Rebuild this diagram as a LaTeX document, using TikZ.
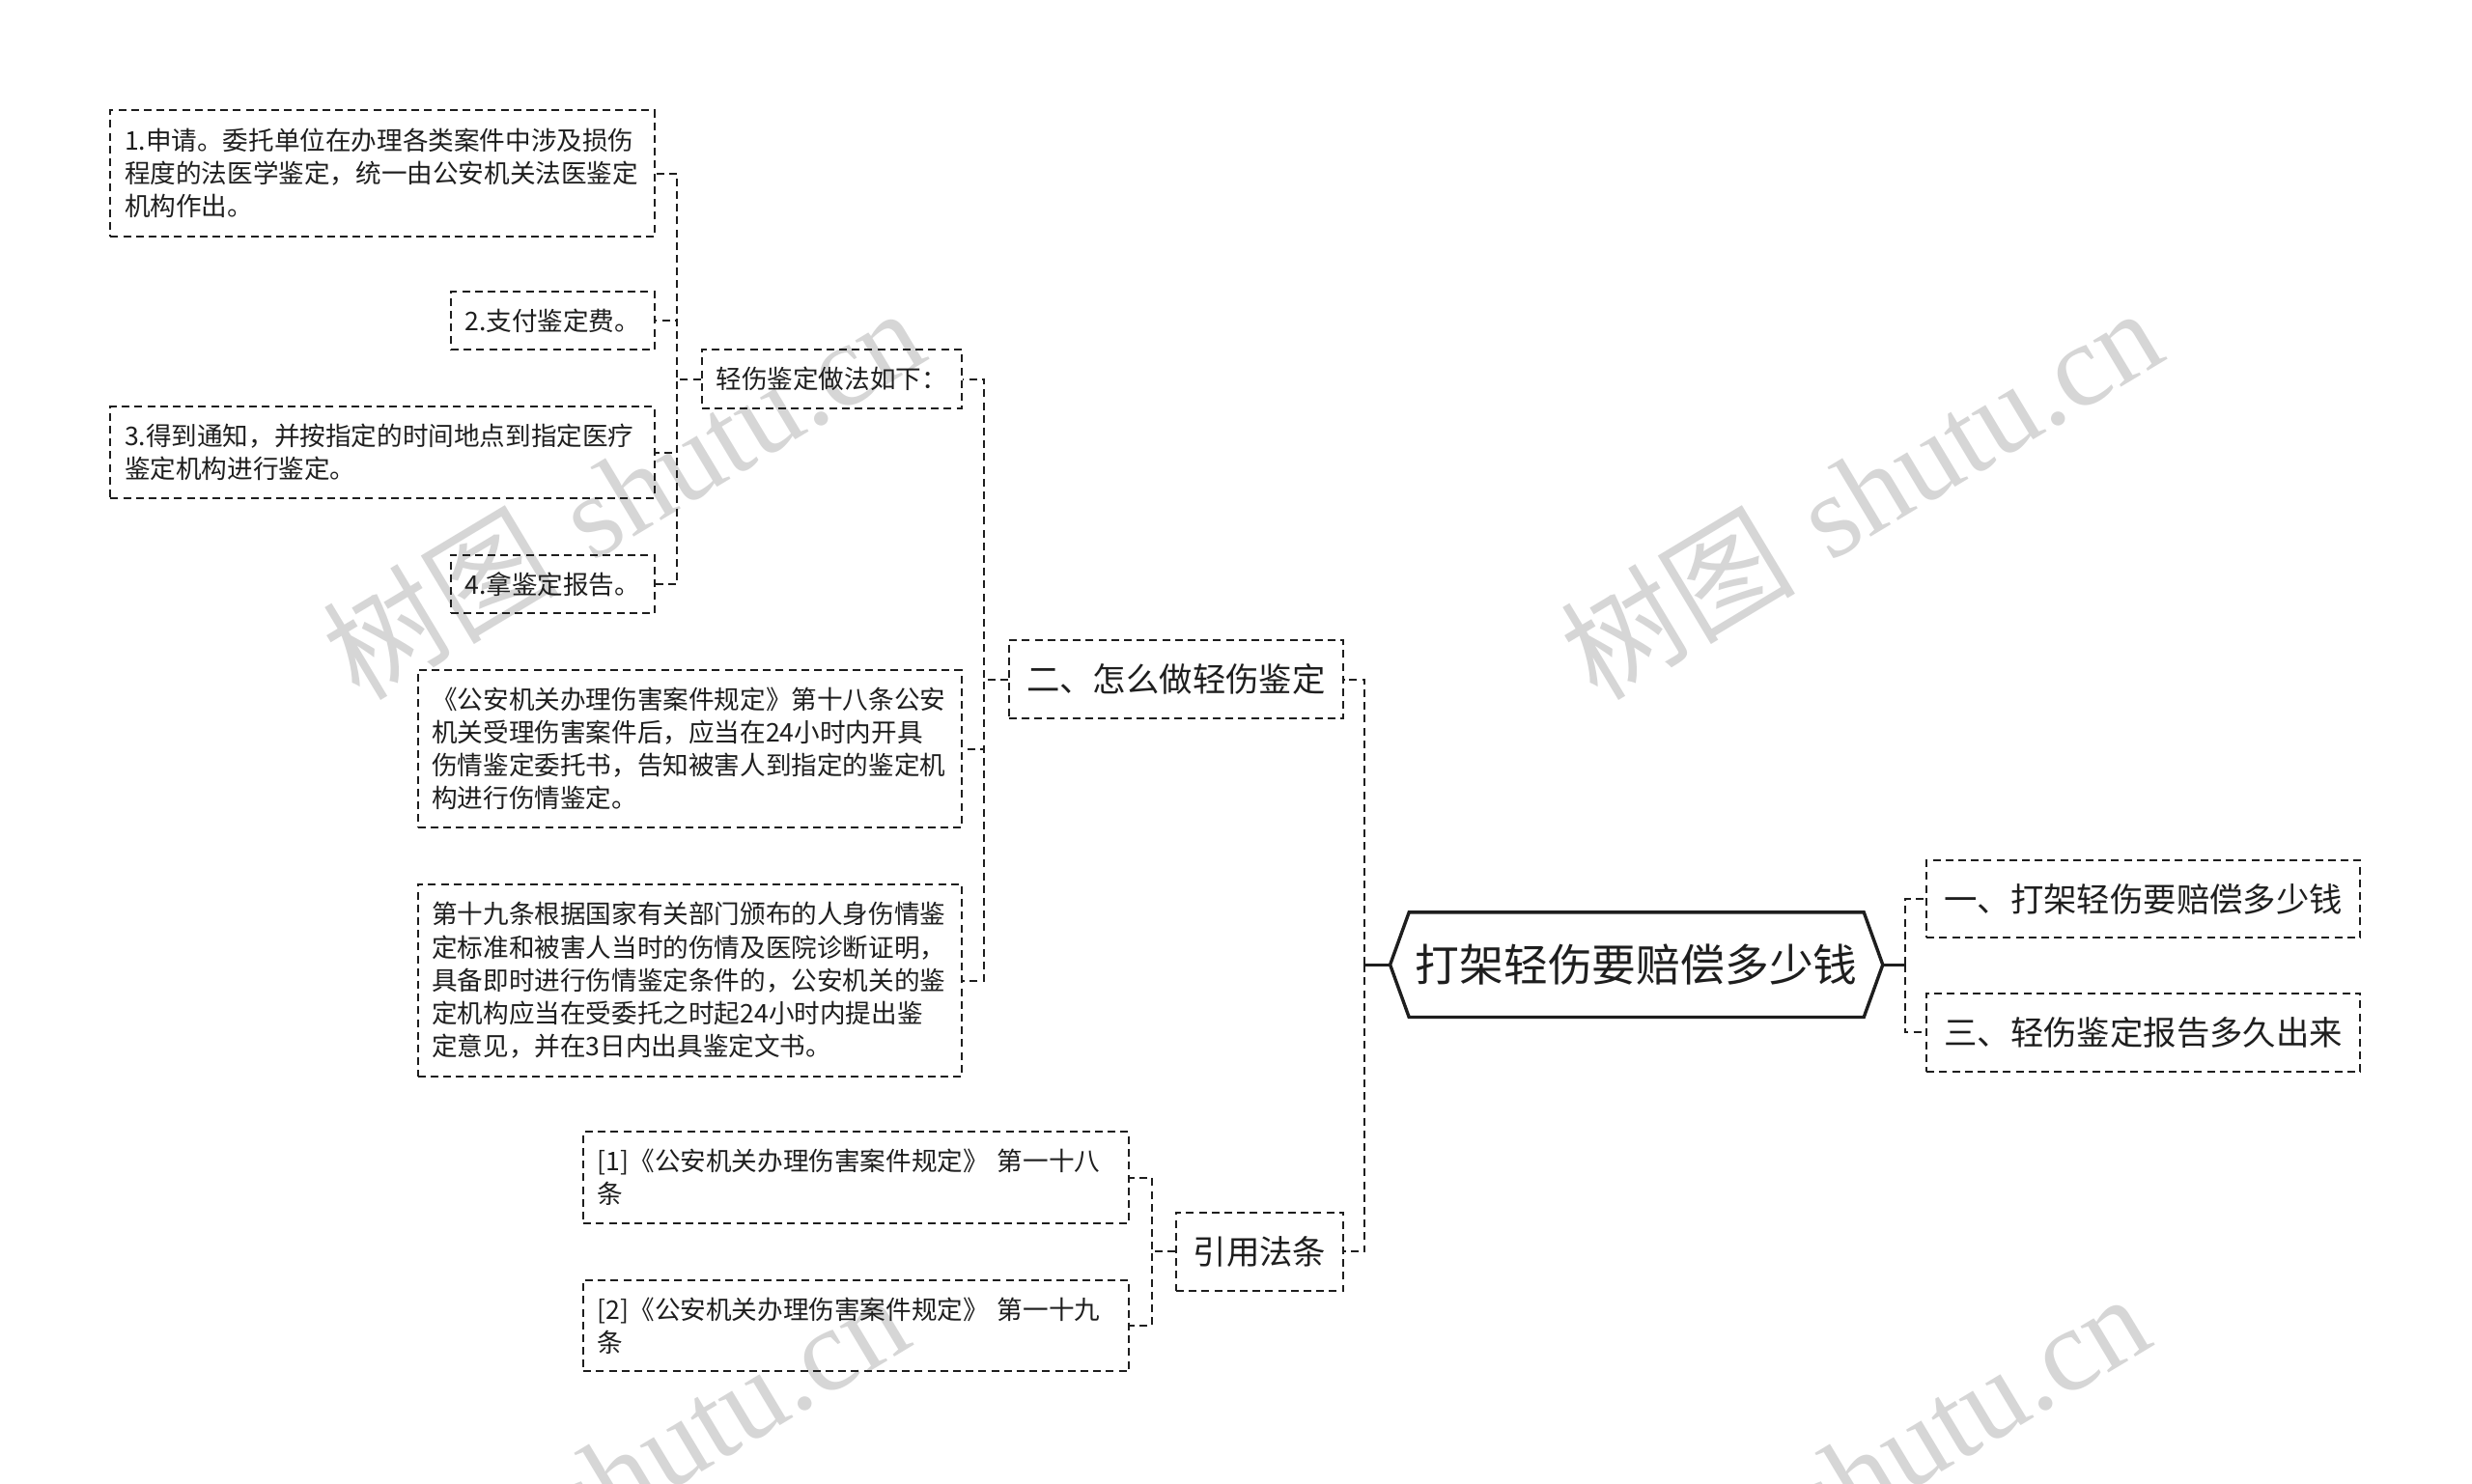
\documentclass[tikz,border=0pt]{standalone}
\usepackage{fontspec}
\newfontfamily\cjk{Noto Sans CJK SC}
\newfontfamily\wmlat{Liberation Serif}
\usetikzlibrary{calc}
\definecolor{ink}{RGB}{30,30,30}
\definecolor{wm}{RGB}{214,214,214}
\tikzset{
  box/.style={draw=ink, line width=1pt, dash pattern=on 4pt off 2.6pt, text=ink,
    font=\cjk\fontsize{13.3}{17.1}\selectfont, inner xsep=7.35pt, inner ysep=1pt, align=left},
  sbox/.style={box, align=center, inner xsep=2pt},
  mbox/.style={box, font=\cjk\fontsize{17.2}{21}\selectfont, align=center, inner xsep=2pt},
  conn/.style={draw=ink, line width=1pt, dash pattern=on 4pt off 2.6pt},
  solidconn/.style={draw=ink, line width=1.6pt},
  hexnode/.style={font=\cjk\fontsize{22.9}{27}\selectfont, text=ink, inner sep=0pt,
    minimum width=254.7pt, minimum height=53.9pt},
  hexline/.style={draw=ink, line width=1.7pt, line join=miter},
  wmark/.style={text=wm, rotate=31, inner sep=0pt, font=\fontsize{61}{61}\selectfont}
}
\begin{document}
\begin{tikzpicture}[x=0.8163pt, y=-0.8163pt]
\useasboundingbox (0,0) rectangle (1568,941);
% watermarks
\node[wmark] (w1) at (395,312) {{\cjk 树图} {\wmlat shutu.cn}};
\node[wmark] (w2) at (1180,312) {{\cjk 树图} {\wmlat shutu.cn}};
\node[wmark] (w3) at (385,937) {{\cjk 树图} {\wmlat shutu.cn}};
\node[wmark] (w4) at (1172,937) {{\cjk 树图} {\wmlat shutu.cn}};

% central node
\node[hexnode] (C) at (1038,612) {打架轻伤要赔偿多少钱};
\draw[hexline] (C.west) -- ($(C.north west)+(12,0)$) -- ($(C.north east)+(-12,0)$)
  -- (C.east) -- ($(C.south east)+(-12,0)$) -- ($(C.south west)+(12,0)$) -- cycle;

% right branch
\node[mbox, minimum width=224.5pt, minimum height=40pt] (A1) at (1359.5,570.5) {一、打架轻伤要赔偿多少钱};
\node[mbox, minimum width=224.5pt, minimum height=40.8pt] (A3) at (1359.5,655) {三、轻伤鉴定报告多久出来};

% left level 1
\node[mbox, minimum width=173.1pt, minimum height=40.8pt] (S2) at (746,431) {二、怎么做轻伤鉴定};
\node[mbox, minimum width=86.5pt, minimum height=40.8pt] (YY) at (799,794) {引用法条};

% level 2 under S2
\node[sbox, minimum width=134.7pt, minimum height=30.2pt] (Q) at (527.5,240.5) {轻伤鉴定做法如下：};
\node[box, text width=266.9pt, minimum height=81.6pt] (L18) at (437.5,475)
  {《公安机关办理伤害案件规定》第十八条公安\\机关受理伤害案件后，应当在24小时内开具\\伤情鉴定委托书，告知被害人到指定的鉴定机\\构进行伤情鉴定。};
\node[box, text width=266.9pt, minimum height=99.6pt] (L19) at (437.5,622)
  {第十九条根据国家有关部门颁布的人身伤情鉴\\定标准和被害人当时的伤情及医院诊断证明，\\具备即时进行伤情鉴定条件的，公安机关的鉴\\定机构应当在受委托之时起24小时内提出鉴\\定意见，并在3日内出具鉴定文书。};

% level 3 under Q
\node[box, text width=266.9pt, minimum height=65.3pt] (B1) at (242.5,110)
  {1.申请。委托单位在办理各类案件中涉及损伤\\程度的法医学鉴定，统一由公安机关法医鉴定\\机构作出。};
\node[sbox, minimum width=105.3pt, minimum height=30.2pt] (B2) at (350.5,203.5) {2.支付鉴定费。};
\node[box, text width=266.9pt, minimum height=47.3pt] (B3) at (242.5,287)
  {3.得到通知，并按指定的时间地点到指定医疗\\鉴定机构进行鉴定。};
\node[sbox, minimum width=105.3pt, minimum height=30.2pt] (B4) at (350.5,370.5) {4.拿鉴定报告。};

% under YY
\node[box, text width=267.7pt, minimum height=47.3pt] (R1) at (543,747)
  {[1]《公安机关办理伤害案件规定》 第一十八\\条};
\node[box, text width=267.7pt, minimum height=47.3pt] (R2) at (543,841)
  {[2]《公安机关办理伤害案件规定》 第一十九\\条};

% connectors: center
\coordinate (jC) at ($(C.west)+(-16,0)$);
\draw[solidconn] (C.west) -- (jC);
\draw[conn] (jC) |- (S2.east);
\draw[conn] (jC) |- (YY.east);
\coordinate (jR) at ($(C.east)+(14,0)$);
\draw[solidconn] (C.east) -- (jR);
\draw[conn] (jR) |- (A1.west);
\draw[conn] (jR) |- (A3.west);

% S2 children
\coordinate (jS) at ($(S2.west)+(-15,0)$);
\draw[conn] (S2.west) -- (jS) |- (Q.east);
\draw[conn] (S2.west) -- (jS) |- (L18.east);
\draw[conn] (S2.west) -- (jS) |- (L19.east);

% Q children
\coordinate (jQ) at ($(Q.west)+(-15,0)$);
\draw[conn] (Q.west) -- (jQ) |- (B1.east);
\draw[conn] (Q.west) -- (jQ) |- (B2.east);
\draw[conn] (Q.west) -- (jQ) |- (B3.east);
\draw[conn] (Q.west) -- (jQ) |- (B4.east);

% YY children
\coordinate (jY) at ($(YY.west)+(-15,0)$);
\draw[conn] (YY.west) -- (jY) |- (R1.east);
\draw[conn] (YY.west) -- (jY) |- (R2.east);
\end{tikzpicture}
\end{document}
